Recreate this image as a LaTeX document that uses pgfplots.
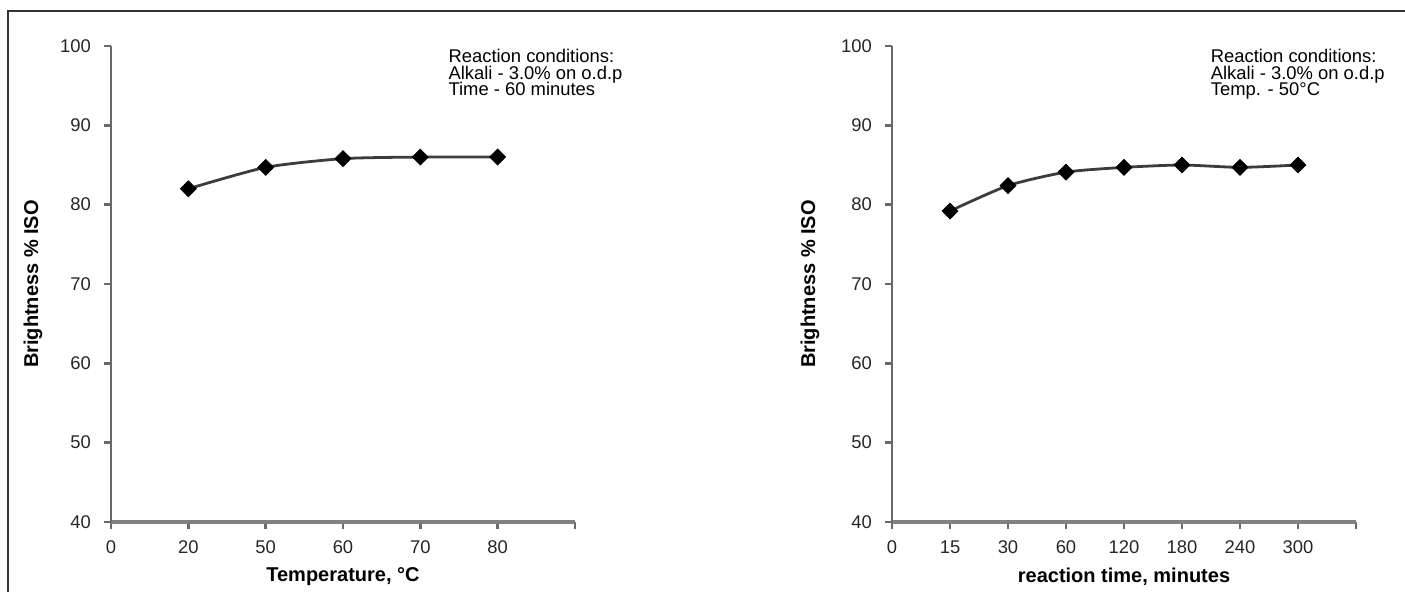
\documentclass[border=0pt]{standalone}
\usepackage{fontspec}
\setmainfont{Liberation Sans}
\usepackage{pgfplots}
\pgfplotsset{compat=1.18}
\definecolor{axgray}{RGB}{105,105,105}
\definecolor{linegray}{RGB}{60,60,60}
\tikzset{note/.style={anchor=north west, inner sep=0pt, align=left,
      font={\fontsize{9.2}{8.1}\selectfont\lineskiplimit=-10pt}}}
\begin{document}
\begin{tikzpicture}
\useasboundingbox (0pt,0pt) rectangle (702.5pt,296pt);
\draw[line width=0.8pt, black!80] (4pt,0pt) -- (4pt,290.5pt) -- (702.5pt,290.5pt);
\pgfplotsset{
  panel/.style={
    at={(#1pt,35pt)}, anchor=south west,
    scale only axis, width=232pt, height=238pt,
    xmin=0, ymin=40, ymax=100,
    axis x line=bottom, axis y line=left,
    x axis line style={-, line width=1.7pt, color=axgray!85},
    y axis line style={-, line width=1.2pt, color=axgray},
    ytick={40,50,...,100},
    tick align=outside,
    major tick length=3.5pt,
    major tick style={line width=1.2pt, color=axgray},
    /pgf/number format/assume math mode=true,
    ticklabel style={font=\fontsize{9.2}{11}\selectfont, text=black!85},
    yticklabel style={xshift=-3pt},
    xticklabel style={yshift=-2.5pt},
    xlabel style={font=\fontsize{10}{12}\selectfont\bfseries, at={(axis description cs:0.5,-0.1155)}, anchor=center},
    ylabel style={font=\fontsize{10}{12}\selectfont\bfseries, anchor=center},
    clip=false,
  },
  dataline/.style={linegray, line width=1.4pt, smooth, tension=0.4,
      mark=square*, mark size=2.8pt, mark options={rotate=45, draw=black, fill=black, line width=0.4pt}},
}
\begin{axis}[panel=55.5, xmax=6,
  xtick={0,1,2,3,4,5,6}, xticklabels={0,20,50,60,70,80,{}},
  xlabel={Temperature, °C},
  ylabel={Brightness \% ISO},
  ylabel style={at={(axis description cs:-0.168,0.5)}}]
\addplot[dataline] coordinates {(1,82.0) (2,84.7) (3,85.8) (4,86.0) (5,86.0)};
\node[note] at (axis cs:4.36,99.6) {Reaction conditions:\\Alkali - 3.0\% on o.d.p\\Time - 60 minutes};
\end{axis}
\begin{axis}[panel=446, xmax=8,
  xtick={0,1,2,3,4,5,6,7,8}, xticklabels={0,15,30,60,120,180,240,300,{}},
  xlabel={reaction time, minutes},
  ylabel={Brightness \% ISO},
  ylabel style={at={(axis description cs:-0.177,0.5)}}]
\addplot[dataline] coordinates {(1,79.2) (2,82.4) (3,84.1) (4,84.7) (5,85.0) (6,84.7) (7,85.0)};
\node[note] at (axis cs:5.49,99.6) {Reaction conditions:\\Alkali - 3.0\% on o.d.p\\Temp. - 50°C};
\end{axis}
\end{tikzpicture}
\end{document}
